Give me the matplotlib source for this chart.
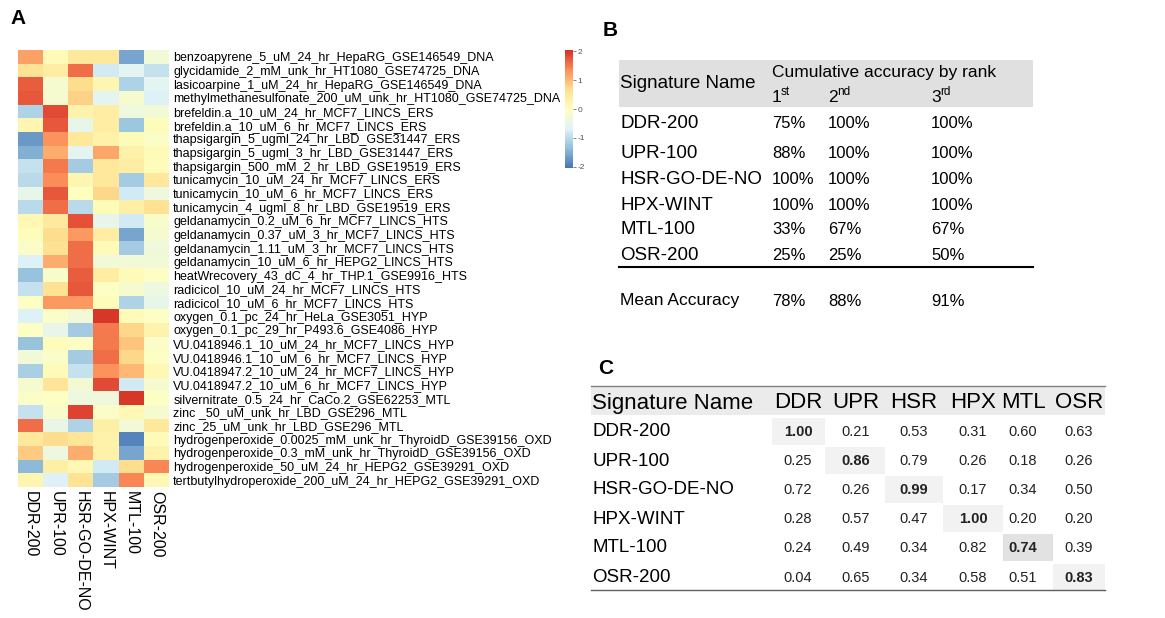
import numpy as np
import matplotlib
matplotlib.use("Agg")
import matplotlib.pyplot as plt
from matplotlib.colors import LinearSegmentedColormap
from matplotlib.patches import Rectangle

plt.rcParams['font.family'] = ['Liberation Sans', 'DejaVu Sans']
plt.rcParams['axes.unicode_minus'] = False

# ---- panel A data ----
signatures = ['DDR-200', 'UPR-100', 'HSR-GO-DE-NO', 'HPX-WINT', 'MTL-100', 'OSR-200']
conditions = [
    'benzoapyrene_5_uM_24_hr_HepaRG_GSE146549_DNA',
    'glycidamide_2_mM_unk_hr_HT1080_GSE74725_DNA',
    'lasicoarpine_1_uM_24_hr_HepaRG_GSE146549_DNA',
    'methylmethanesulfonate_200_uM_unk_hr_HT1080_GSE74725_DNA',
    'brefeldin.a_10_uM_24_hr_MCF7_LINCS_ERS',
    'brefeldin.a_10_uM_6_hr_MCF7_LINCS_ERS',
    'thapsigargin_5_ugml_24_hr_LBD_GSE31447_ERS',
    'thapsigargin_5_ugml_3_hr_LBD_GSE31447_ERS',
    'thapsigargin_500_mM_2_hr_LBD_GSE19519_ERS',
    'tunicamycin_10_uM_24_hr_MCF7_LINCS_ERS',
    'tunicamycin_10_uM_6_hr_MCF7_LINCS_ERS',
    'tunicamycin_4_ugml_8_hr_LBD_GSE19519_ERS',
    'geldanamycin_0.2_uM_6_hr_MCF7_LINCS_HTS',
    'geldanamycin_0.37_uM_3_hr_MCF7_LINCS_HTS',
    'geldanamycin_1.11_uM_3_hr_MCF7_LINCS_HTS',
    'geldanamycin_10_uM_6_hr_HEPG2_LINCS_HTS',
    'heatWrecovery_43_dC_4_hr_THP.1_GSE9916_HTS',
    'radicicol_10_uM_24_hr_MCF7_LINCS_HTS',
    'radicicol_10_uM_6_hr_MCF7_LINCS_HTS',
    'oxygen_0.1_pc_24_hr_HeLa_GSE3051_HYP',
    'oxygen_0.1_pc_29_hr_P493.6_GSE4086_HYP',
    'VU.0418946.1_10_uM_24_hr_MCF7_LINCS_HYP',
    'VU.0418946.1_10_uM_6_hr_MCF7_LINCS_HYP',
    'VU.0418947.2_10_uM_24_hr_MCF7_LINCS_HYP',
    'VU.0418947.2_10_uM_6_hr_MCF7_LINCS_HYP',
    'silvernitrate_0.5_24_hr_CaCo.2_GSE62253_MTL',
    'zinc _50_uM_unk_hr_LBD_GSE296_MTL',
    'zinc_25_uM_unk_hr_LBD_GSE296_MTL',
    'hydrogenperoxide_0.0025_mM_unk_hr_ThyroidD_GSE39156_OXD',
    'hydrogenperoxide_0.3_mM_unk_hr_ThyroidD_GSE39156_OXD',
    'hydrogenperoxide_50_uM_24_hr_HEPG2_GSE39291_OXD',
    'tertbutylhydroperoxide_200_uM_24_hr_HEPG2_GSE39291_OXD',
]
scores = [
    [ 1.20,  0.10,  0.50,  0.50, -1.60, -0.30],
    [ 0.60,  0.40,  1.60, -0.80, -0.60, -0.90],
    [ 1.70, -0.20,  0.70,  0.20, -1.10, -0.60],
    [ 1.75, -0.20,  0.80, -0.60, -0.20, -0.70],
    [-1.10,  1.85,  0.25,  0.40, -0.40, -0.30],
    [ 0.20,  1.75, -0.50,  0.40, -1.25,  0.05],
    [-1.70,  1.30,  0.50,  0.30,  0.10, -0.10],
    [-1.50,  1.10, -0.60,  1.15,  0.30,  0.10],
    [-0.90,  1.50, -1.20,  0.50,  0.40,  0.05],
    [-1.00,  1.35,  0.20,  0.50, -1.20,  0.50],
    [-0.50,  1.75,  0.00,  0.75, -0.80, -0.40],
    [-1.00,  1.60, -1.00,  0.10,  0.35,  0.60],
    [ 0.15,  0.45,  1.80, -0.50, -0.80, -0.15],
    [ 0.05,  0.70,  1.25,  0.40, -1.60, -0.20],
    [-0.10,  0.65,  1.60,  0.10, -1.20, -0.35],
    [-0.70,  1.10,  1.60, -0.30, -0.30, -0.30],
    [-1.30, -0.15,  1.70,  0.40,  0.10, -0.05],
    [-0.90,  0.60,  1.75, -0.05, -0.20, -0.40],
    [-0.05,  1.25,  1.25,  0.05, -1.10, -0.50],
    [-0.70, -0.10, -0.30,  2.00,  0.10, -0.05],
    [-0.05, -0.50, -1.20,  1.50,  0.75,  0.25],
    [-1.30,  0.05, -0.05,  1.50,  0.90, -0.10],
    [-0.30, -0.10, -1.20,  1.60,  0.75, -0.05],
    [-1.15,  0.10, -0.90,  1.30,  1.00,  0.15],
    [-0.20,  0.55, -0.25,  1.85, -0.80, -0.20],
    [-0.10, -0.05, -0.40, -0.35,  2.00, -0.05],
    [-0.90, -0.15,  1.90, -0.10,  0.15, -0.20],
    [ 1.60, -0.45, -1.10,  0.35, -0.30,  0.50],
    [ 0.50,  0.70,  0.55,  0.30, -1.90,  0.10],
    [ 0.85, -0.40,  1.10,  0.30, -1.60,  0.25],
    [-1.40,  0.35,  0.15, -0.80,  0.70,  1.40],
    [ 0.20, -0.70,  0.60, -1.20,  1.40,  0.15],
]
cbar_ticks = [-2, -1, 0, 1, 2]

# ---- panel B data ----
acc_names = ['DDR-200', 'UPR-100', 'HSR-GO-DE-NO', 'HPX-WINT', 'MTL-100', 'OSR-200']
acc_1st = ['75%', '88%', '100%', '100%', '33%', '25%']
acc_2nd = ['100%', '100%', '100%', '100%', '67%', '25%']
acc_3rd = ['100%', '100%', '100%', '100%', '67%', '50%']
acc_mean = ['78%', '88%', '91%']

# ---- panel C data ----
corr_cols = ['DDR', 'UPR', 'HSR', 'HPX', 'MTL', 'OSR']
corr_rows = ['DDR-200', 'UPR-100', 'HSR-GO-DE-NO', 'HPX-WINT', 'MTL-100', 'OSR-200']
corr = [
    [1.00, 0.21, 0.53, 0.31, 0.60, 0.63],
    [0.25, 0.86, 0.79, 0.26, 0.18, 0.26],
    [0.72, 0.26, 0.99, 0.17, 0.34, 0.50],
    [0.28, 0.57, 0.47, 1.00, 0.20, 0.20],
    [0.24, 0.49, 0.34, 0.82, 0.74, 0.39],
    [0.04, 0.65, 0.34, 0.58, 0.51, 0.83],
]

W, H = 1165, 618
fig = plt.figure(figsize=(W / 100, H / 100), dpi=100)


def box(x0, y0, x1, y1):
    # pixel box (top-left origin) -> figure fraction rect
    return [x0 / W, 1 - y1 / H, (x1 - x0) / W, (y1 - y0) / H]


# overlay axes in pixel coordinates for labels and tables
ax = fig.add_axes([0, 0, 1, 1])
ax.set_xlim(0, W)
ax.set_ylim(H, 0)
ax.axis('off')

# ---- A: heatmap ----
cmap = LinearSegmentedColormap.from_list(
    'pheat', ['#4575B4', '#91BFDB', '#E0F3F8', '#FFFFBF', '#FEE090', '#FC8D59', '#D73027'])
hm = fig.add_axes(box(18, 50, 169, 487))
im = hm.imshow(np.array(scores), aspect='auto', cmap=cmap, vmin=-2.05, vmax=2.05,
               interpolation='nearest')
for s in hm.spines.values():
    s.set_visible(False)
hm.yaxis.tick_right()
hm.set_yticks(range(len(conditions)))
hm.set_yticklabels(conditions, fontsize=9)
hm.set_xticks(range(len(signatures)))
hm.set_xticklabels(signatures, fontsize=11.5, rotation=270, ha='center', va='top')
hm.tick_params(length=0, pad=3)

cax = fig.add_axes(box(565, 50, 573, 168))
cb = fig.colorbar(im, cax=cax, ticks=cbar_ticks)
cb.outline.set_visible(False)
cax.tick_params(labelsize=6, length=2, width=0.5, colors='#555555', pad=1)

ax.text(10, 19, 'A', fontsize=15, fontweight='bold', va='center', ha='left')

# ---- B: accuracy table ----
ax.text(603, 30, 'B', fontsize=15, fontweight='bold', va='center', ha='left')
ax.add_patch(Rectangle((619, 60), 414, 47, facecolor='#E0E0E0', edgecolor='none'))
ax.text(620, 84, 'Signature Name', fontsize=13.5, va='center')
ax.text(772, 73, 'Cumulative accuracy by rank', fontsize=12.5, va='center')
b_cols = [772, 828, 931]
for x, num, sup in zip(b_cols, ['1', '2', '3'], ['st', 'nd', 'rd']):
    ax.text(x, 97, num, fontsize=12.5, va='center')
    ax.text(x + 9, 92, sup, fontsize=8.5, va='center')
b_rows = [124, 153, 179, 205, 230, 255]
for y, name, a1, a2, a3 in zip(b_rows, acc_names, acc_1st, acc_2nd, acc_3rd):
    ax.text(620, y, name, fontsize=13.5, va='center')
    for x, v in zip(b_cols, [a1, a2, a3]):
        ax.text(x, y, v, fontsize=12, va='center')
ax.plot([619, 1033], [267, 267], color='black', lw=1.5)
ax.text(620, 301, 'Mean Accuracy', fontsize=12.5, va='center')
for x, v in zip(b_cols, acc_mean):
    ax.text(x, 301, v, fontsize=12, va='center')

# ---- C: correlation table ----
ax.text(598, 368, 'C', fontsize=15, fontweight='bold', va='center', ha='left')
ax.add_patch(Rectangle((591, 386), 514, 29, facecolor='#EBEBEB', edgecolor='none'))
ax.plot([591, 1105], [386, 386], color='#808080', lw=1)
ax.plot([591, 1105], [590, 590], color='#606060', lw=1)
ax.text(592, 403, 'Signature Name', fontsize=16, va='center')
c_edges = [772, 825, 885, 943, 1003, 1053, 1105]
c_centers = [798, 856, 914, 973, 1023, 1079]
for x, c in zip(c_centers, corr_cols):
    ax.text(x, 403, c, fontsize=16, va='center', ha='center')
c_rows = [432, 461, 490, 519, 548, 578]
for i, (y, name) in enumerate(zip(c_rows, corr_rows)):
    ax.text(592, y, name, fontsize=13.5, va='center')
    for j, v in enumerate(corr[i]):
        bold = i == j
        if bold:
            shade = '#E2E2E2' if corr_cols[j] == 'MTL' else '#F2F2F2'
            ax.add_patch(Rectangle((c_edges[j], y - 14), c_edges[j + 1] - c_edges[j], 27,
                                   facecolor=shade, edgecolor='none', zorder=0))
        ax.text(c_centers[j], y, f'{v:.2f}', fontsize=10.5, va='center', ha='center',
                fontweight='bold' if bold else 'normal', color='#222222')

fig.savefig('out.png', dpi=100)
plt.close(fig)
